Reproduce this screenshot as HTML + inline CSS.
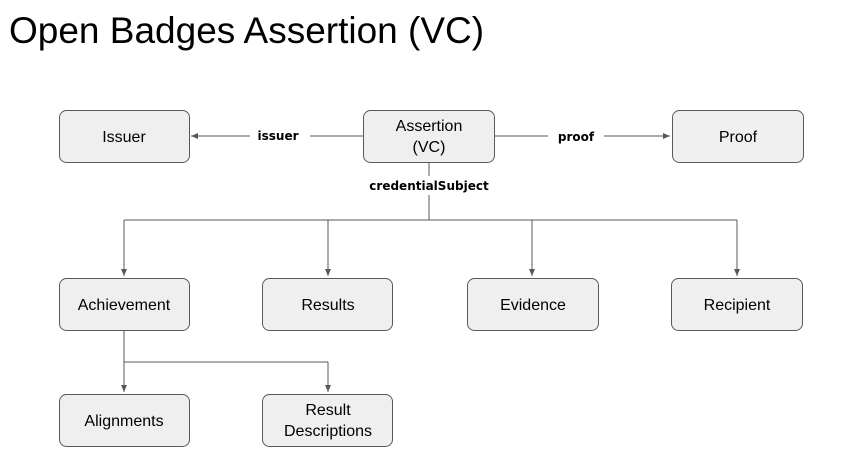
<!DOCTYPE html>
<html><head><meta charset="utf-8"><style>
body{margin:0;width:857px;height:466px;background:#fff;overflow:hidden;font-family:"Liberation Sans",sans-serif}
</style></head><body>
<svg width="857" height="466" xmlns="http://www.w3.org/2000/svg">
<defs><marker id="a" markerWidth="8" markerHeight="8" refX="7" refY="4" orient="auto" markerUnits="userSpaceOnUse"><path d="M0,1 L7,4 L0,7 z" fill="#595959"/></marker></defs>
<text x="9" y="43" font-size="37" fill="#000" font-family="Liberation Sans, sans-serif">Open Badges Assertion (VC)</text>
<g stroke="#595959" stroke-width="1" fill="none">
<line x1="363" y1="136" x2="310" y2="136"/><line x1="250" y1="136" x2="191" y2="136" marker-end="url(#a)"/>
<line x1="494" y1="136" x2="548" y2="136"/><line x1="604" y1="136" x2="670" y2="136" marker-end="url(#a)"/>
<line x1="429" y1="162" x2="429" y2="176"/><line x1="429" y1="195" x2="429" y2="220"/>
<line x1="124" y1="220" x2="737" y2="220"/>
<line x1="124" y1="220" x2="124" y2="276" marker-end="url(#a)"/>
<line x1="328" y1="220" x2="328" y2="276" marker-end="url(#a)"/>
<line x1="532" y1="220" x2="532" y2="276" marker-end="url(#a)"/>
<line x1="737" y1="220" x2="737" y2="276" marker-end="url(#a)"/>
<line x1="124" y1="330" x2="124" y2="392" marker-end="url(#a)"/>
<line x1="124" y1="362" x2="328" y2="362"/>
<line x1="328" y1="362" x2="328" y2="392" marker-end="url(#a)"/>
</g>
<g fill="#efefef" stroke="#595959" stroke-width="1">
<rect x="59.5" y="110.5" width="130" height="52" rx="7"/>
<rect x="363.5" y="110.5" width="131" height="52" rx="7"/>
<rect x="672.5" y="110.5" width="131" height="52" rx="7"/>
<rect x="59.5" y="278.5" width="130" height="52" rx="7"/>
<rect x="262.5" y="278.5" width="130" height="52" rx="7"/>
<rect x="467.5" y="278.5" width="131" height="52" rx="7"/>
<rect x="671.5" y="278.5" width="131" height="52" rx="7"/>
<rect x="59.5" y="394.5" width="130" height="52" rx="7"/>
<rect x="262.5" y="394.5" width="130" height="52" rx="7"/>
</g>
<g font-size="16" fill="#000" text-anchor="middle" font-family="Liberation Sans, sans-serif">
<text x="124" y="142">Issuer</text>
<text x="429" y="131">Assertion</text><text x="429" y="152">(VC)</text>
<text x="738" y="142">Proof</text>
<text x="124" y="310">Achievement</text>
<text x="328" y="310">Results</text>
<text x="533" y="310">Evidence</text>
<text x="737" y="310">Recipient</text>
<text x="124" y="426">Alignments</text>
<text x="328" y="415">Result</text><text x="328" y="436">Descriptions</text>
</g>
<g font-size="12" font-weight="bold" fill="#000" text-anchor="middle" font-family="DejaVu Sans, sans-serif">
<text x="278" y="140">issuer</text>
<text x="576" y="141">proof</text>
<text x="429" y="190">credentialSubject</text>
</g>
</svg>
</body></html>
